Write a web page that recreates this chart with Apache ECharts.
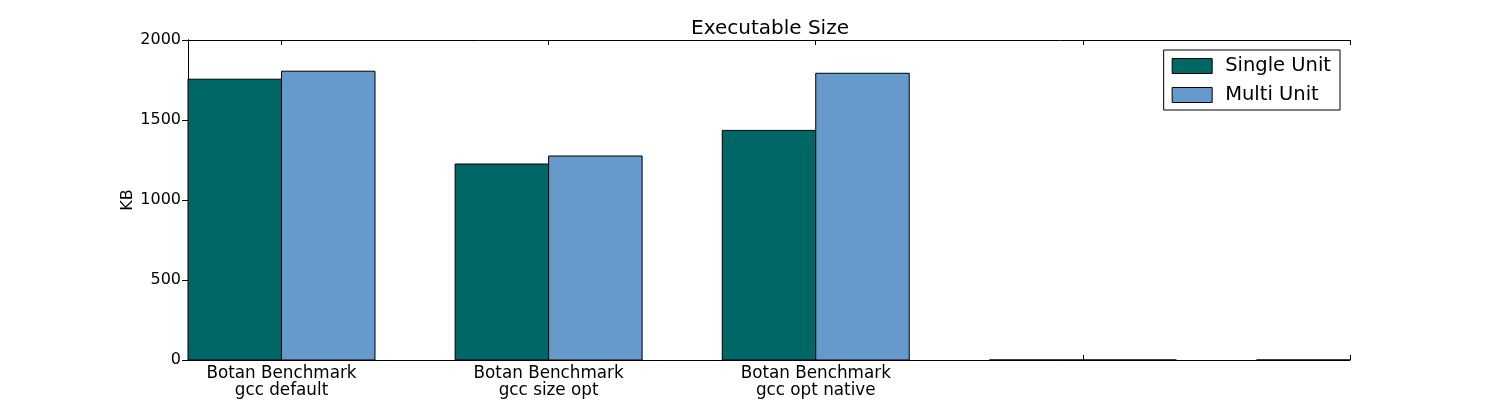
<!DOCTYPE html>
<html>
<head>
<meta charset="utf-8">
<script src="https://cdn.jsdelivr.net/npm/echarts@6/dist/echarts.min.js"></script>
<style>html,body{margin:0;padding:0;background:#fff}#c{width:1500px;height:400px}</style>
</head>
<body>
<div id="c"></div>
<script>
const categories = ['Botan Benchmark\ngcc default', 'Botan Benchmark\ngcc size opt', 'Botan Benchmark\ngcc opt native', '', ''];
const singleUnit = [1755, 1225, 1435, 0, 0];
const multiUnit = [1805, 1275, 1792, 0, 0];
const yTicks = [0, 500, 1000, 1500, 2000];
const BAR_W = 0.35;

const tickPos = categories.map((c, i) => i + BAR_W);
const labelPos = categories.map((c, i) => i + BAR_W).filter((v, i) => categories[i] !== '');
const singleData = singleUnit.map((v, i) => [i, i + BAR_W, v]);
const multiData = multiUnit.map((v, i) => [i + BAR_W, i + 2 * BAR_W, v]);

const FONT = 'DejaVu Sans';
const C1 = '#006666', C2 = '#6699cc';

function renderBar(params, api) {
  const p0 = api.coord([api.value(0), api.value(2)]);
  const p1 = api.coord([api.value(1), 0]);
  const cs = params.coordSys;
  const rect = echarts.graphic.clipRectByRect(
    { x: p0[0], y: Math.min(p0[1], p1[1]), width: p1[0] - p0[0], height: Math.abs(p1[1] - p0[1]) },
    { x: cs.x, y: cs.y - 2, width: cs.width, height: cs.height + 4 }
  );
  if (!rect) return;
  return { type: 'rect', shape: rect, style: { fill: api.visual('color'), stroke: '#000', lineWidth: 1 } };
}

const chart = echarts.init(document.getElementById('c'), null, { renderer: 'canvas' });
const axisCommon = {
  type: 'value', min: 0, max: 4 + BAR_W,
  axisLine: { show: true, onZero: false, lineStyle: { color: '#000', width: 1 } },
  splitLine: { show: false },
  axisTick: { show: true, inside: true, length: 5, customValues: tickPos, lineStyle: { color: '#000' } }
};
chart.setOption({
  animation: false,
  backgroundColor: '#fff',
  title: { text: 'Executable Size', left: 765, textAlign: 'center', top: 14, textStyle: { fontFamily: FONT, fontSize: 20, fontWeight: 'normal', color: '#000' } },
  grid: { left: 188, right: 150, top: 40, bottom: 40, containLabel: false },
  legend: {
    orient: 'vertical', right: 160, top: 50, padding: [6, 9, 5, 8],
    borderColor: '#000', borderWidth: 1, borderRadius: 0,
    itemWidth: 40, itemHeight: 15, itemGap: 9,
    textStyle: { fontFamily: FONT, fontSize: 19.5, color: '#000', padding: [0, 0, 0, 8] },
    data: [
      { name: 'Single Unit', icon: 'rect', itemStyle: { color: C1, borderColor: '#000', borderWidth: 1 } },
      { name: 'Multi Unit', icon: 'rect', itemStyle: { color: C2, borderColor: '#000', borderWidth: 1 } }
    ]
  },
  xAxis: [
    Object.assign({}, axisCommon, {
      position: 'bottom',
      axisLabel: {
        show: true, customValues: labelPos, margin: 5, fontFamily: FONT, fontSize: 16.8, color: '#000', lineHeight: 17,
        formatter: v => categories[Math.round(v - BAR_W)] || ''
      }
    }),
    Object.assign({}, axisCommon, { position: 'top', axisLabel: { show: false } })
  ],
  yAxis: [
    {
      type: 'value', min: 0, max: 2000, interval: 500, position: 'left',
      name: 'KB', nameLocation: 'middle', nameGap: 52, nameRotate: 90, nameMoveOverlap: false,
      nameTextStyle: { fontFamily: FONT, fontSize: 16, color: '#000' },
      axisLine: { show: true, lineStyle: { color: '#000' } },
      splitLine: { show: false },
      axisTick: { show: true, inside: true, length: 6, lineStyle: { color: '#000' } },
      axisLabel: { fontFamily: FONT, fontSize: 16, color: '#000', margin: 7, formatter: v => yTicks.includes(v) ? String(v) : '' }
    },
    {
      type: 'value', min: 0, max: 2000, interval: 500, position: 'right',
      axisLine: { show: true, lineStyle: { color: '#000' } },
      splitLine: { show: false },
      axisTick: { show: true, inside: true, length: 6, lineStyle: { color: '#000' } },
      axisLabel: { show: false }
    }
  ],
  series: [
    { name: 'Single Unit', type: 'custom', xAxisIndex: 0, yAxisIndex: 0, itemStyle: { color: C1 }, encode: { x: [0, 1], y: 2 }, renderItem: renderBar, data: singleData },
    { name: 'Multi Unit', type: 'custom', xAxisIndex: 0, yAxisIndex: 0, itemStyle: { color: C2 }, encode: { x: [0, 1], y: 2 }, renderItem: renderBar, data: multiData }
  ]
});
</script>
</body>
</html>
